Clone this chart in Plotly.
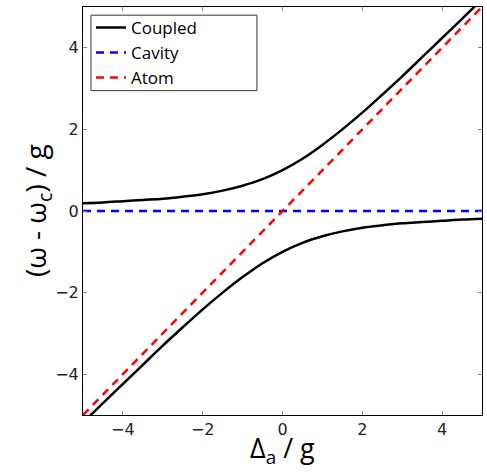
import plotly.graph_objects as go

# Detuning of the atom from the cavity, in units of g
detuning = [-5.0, -4.5, -4.0, -3.5, -3.0, -2.5, -2.0, -1.5, -1.0, -0.5, 0.0,
            0.5, 1.0, 1.5, 2.0, 2.5, 3.0, 3.5, 4.0, 4.5, 5.0]

# Dressed-state branches (upper and lower polariton)
upper_branch = [0.19, 0.21, 0.24, 0.27, 0.30, 0.35, 0.41, 0.50, 0.62, 0.78, 1.00,
                1.28, 1.62, 2.00, 2.41, 2.85, 3.30, 3.77, 4.24, 4.71, 5.19]
lower_branch = [-5.19, -4.71, -4.24, -3.77, -3.30, -2.85, -2.41, -2.00, -1.62, -1.28, -1.00,
                -0.78, -0.62, -0.50, -0.41, -0.35, -0.30, -0.27, -0.24, -0.21, -0.19]

# Bare resonances
bare_x = [-5.0, 5.0]
cavity_level = [0.0, 0.0]
atom_level = [-5.0, 5.0]

tick_vals = [-4, -2, 0, 2, 4]
tick_text = ["\u22124", "\u22122", "0", "2", "4"]

fig = go.Figure()
fig.add_trace(go.Scatter(x=detuning, y=upper_branch, mode="lines", name="Coupled",
                         line=dict(color="black", width=2.5, shape="spline")))
fig.add_trace(go.Scatter(x=detuning, y=lower_branch, mode="lines", name="Coupled",
                         showlegend=False,
                         line=dict(color="black", width=2.5, shape="spline")))
fig.add_trace(go.Scatter(x=bare_x, y=cavity_level, mode="lines", name="Cavity",
                         line=dict(color="#0000ff", width=2.5, dash="8px,6px")))
fig.add_trace(go.Scatter(x=bare_x, y=atom_level, mode="lines", name="Atom",
                         line=dict(color="#ff0000", width=2.5, dash="8px,6px")))

axis_common = dict(
    showline=True, linecolor="black", linewidth=1, mirror="ticks",
    ticks="inside", ticklen=4, tickcolor="#888888", tickwidth=1,
    showgrid=False, zeroline=False,
    tickfont=dict(family="DejaVu Sans", size=16, color="#222222"),
    tickvals=tick_vals, ticktext=tick_text,
)

fig.update_xaxes(range=[-5, 5], **axis_common)
fig.update_yaxes(range=[-5, 5], **axis_common)

# Axis titles placed close to the tick labels
fig.add_annotation(text="\u0394<sub>a</sub> / g", xref="paper", yref="paper",
                   x=0.5, y=-0.03, xanchor="center", yanchor="top", showarrow=False,
                   font=dict(family="Open Sans", size=27, color="black"))
fig.add_annotation(text="(\u03c9 - \u03c9<sub>c</sub>) / g", xref="paper", yref="paper",
                   x=-0.115, y=0.5, xanchor="center", yanchor="middle", showarrow=False,
                   textangle=-90,
                   font=dict(family="Open Sans", size=28, color="black"))

# Framed legend panel (wider than the entries, as in the original figure)
fig.add_shape(type="rect", xref="paper", yref="paper",
              x0=0.02, x1=0.436, y0=0.795, y1=0.98,
              fillcolor="white", line=dict(color="#333333", width=1), layer="above")

fig.update_layout(
    width=487, height=472,
    margin=dict(l=83, r=5, t=7, b=57),
    plot_bgcolor="white", paper_bgcolor="white",
    legend=dict(x=0.02, y=0.993, xanchor="left", yanchor="top",
                bgcolor="rgba(0,0,0,0)", borderwidth=0,
                font=dict(family="Open Sans", size=17, color="black"),
                tracegroupgap=0, itemwidth=30),
)

fig.write_html("out.html")
